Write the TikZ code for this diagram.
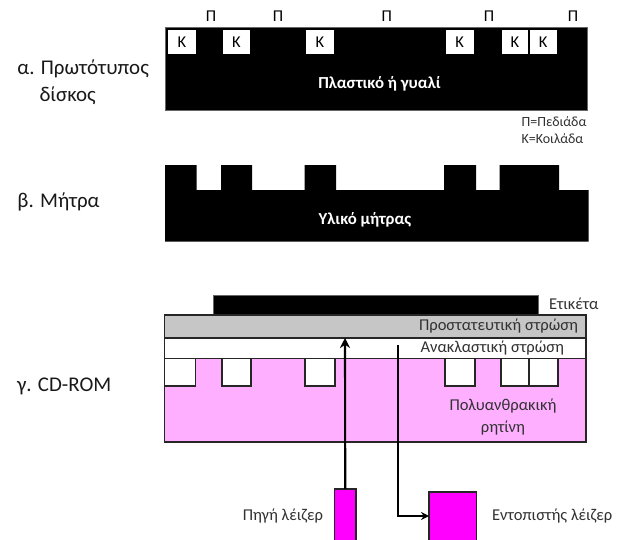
\documentclass[tikz,border=0pt]{standalone}
\usepackage{fontspec}
\setmainfont{Carlito}
\usetikzlibrary{arrows.meta,calc}
\definecolor{pinkres}{RGB}{255,175,255}
\definecolor{magsrc}{RGB}{255,0,255}
\definecolor{grayprot}{RGB}{198,198,198}
\definecolor{txtgray}{RGB}{50,50,50}
\newcommand{\rbox}[6]{\node[#6,anchor=north west,minimum width={(#4-#2)*0.75pt},minimum height={(#5-#3)*0.75pt}] (#1) at (#2,#3) {};}
\tikzset{
  x=0.75pt,y=-0.75pt,
  every node/.style={inner sep=0pt,outer sep=0pt,text=txtgray},
  blackbox/.style={fill=black,draw=black!60,line width=0.5pt},
  valley/.style={fill=white,draw=none,text=black},
  layer/.style={draw=black!85,line width=1.4pt},
  pit/.style={fill=white,draw=black!85,line width=1.4pt},
  laser/.style={fill=magsrc,draw=black!85,line width=1.4pt},
  beam/.style={line width=1.6pt,draw=black},
  big/.style={font=\fontsize{15.7}{18}\selectfont,text=black!90},
  mid/.style={font=\fontsize{12.4}{14}\selectfont},
  small/.style={font=\fontsize{10.5}{12}\selectfont},
  whitebold/.style={font=\bfseries\fontsize{12.6}{14}\selectfont,text=white},
  letter/.style={font=\fontsize{12.4}{14}\selectfont,text=black}
}
\begin{document}
\begin{tikzpicture}
\useasboundingbox (0,0) rectangle (619,540);
\clip (0,0) rectangle (619,540);
\fill[white] (0,0) rectangle (619,540);
% α
\node[big,anchor=base west] (la1) at (17.5,74) {α. Πρωτότυπος};
\node[big,anchor=base west] (la2) at (39.5,101.6) {δίσκος};
\rbox{disc}{165.7}{27.5}{587}{110.5}{blackbox}
\foreach \n/\a/\b in {k1/168/196,k2/222.7/250,k3/306/334,k4/446/473.5,k5/502/528,k6/529.5/557}{
  \rbox{\n}{\a}{30}{\b}{54}{valley}
  \node[letter] at (\n) {Κ};
}
\foreach \n/\a in {p1/211,p2/278,p3/386.7,p4/489,p5/573}{
  \node[letter] (\n) at (\a,16) {Π};
}
\node[whitebold] (plastic) at (379.5,84) {Πλαστικό ή γυαλί};
\node[small,anchor=west] (leg1) at (521.7,121.5) {Π=Πεδιάδα};
\node[small,anchor=west] (leg2) at (521.7,139) {Κ=Κοιλάδα};
% β
\node[big,anchor=base west] (lb) at (17.5,207.7) {β. Μήτρα};
\fill[black] (165,165) -- (196.5,165) -- (196.5,190) -- (221,190) -- (221,165) -- (252,165) -- (252,190) -- (304.5,190) -- (304.5,165) -- (336,165) -- (336,190) -- (444,190) -- (444,165) -- (476,165) -- (476,190) -- (499.5,190) -- (499.5,165) -- (559,165) -- (559,190) -- (588.5,190) -- (588.5,241.5) -- (165,241.5) -- cycle;
\node[whitebold] (matmat) at (365,220) {Υλικό μήτρας};
% γ
\node[big,anchor=base west] (lc) at (17,391.7) {γ. CD-ROM};
\rbox{label}{213.5}{295.7}{538}{314}{blackbox}
\node[mid,anchor=west] (labeltxt) at (549,304) {Ετικέτα};
\rbox{resin}{164.5}{358}{586}{442}{layer,fill=pinkres}
\rbox{protect}{164.5}{315}{586}{338}{layer,fill=grayprot}
\rbox{reflect}{164.5}{338}{586}{358.5}{layer,fill=white}
\foreach \n/\a/\b in {h1/164.5/195.5,h2/222/251,h3/305/335,h4/445/475,h5/501/529,h6/529/558}{
  \rbox{\n}{\a}{358.5}{\b}{386}{pit}
}
\node[mid,anchor=east] (prottxt) at (578,326.5) {Προστατευτική στρώση};
\node[mid,anchor=east] (refltxt) at (564,348) {Ανακλαστική στρώση};
\node[mid,align=center] (restxt) at (503,417) {Πολυανθρακική\\[2pt]ρητίνη};
\rbox{source}{334.5}{489}{356}{560}{laser}
\rbox{detector}{429}{492}{476.5}{560}{laser}
\node[mid,anchor=east] (srctxt) at (323,516) {Πηγή λέιζερ};
\node[mid,anchor=west] (dettxt) at (492,516) {Εντοπιστής λέιζερ};
\coordinate (hit) at (345,338);
\coordinate (reflstart) at (397.7,345);
\coordinate (turn) at (397.7,516);
\draw[beam,-{Stealth[length=7.5pt,width=7.5pt]}] (source.north) -- (hit);
\draw[beam,-{Stealth[length=6pt,width=6pt]}] (reflstart) -- (turn) -- (turn -| detector.west);
\end{tikzpicture}
\end{document}
